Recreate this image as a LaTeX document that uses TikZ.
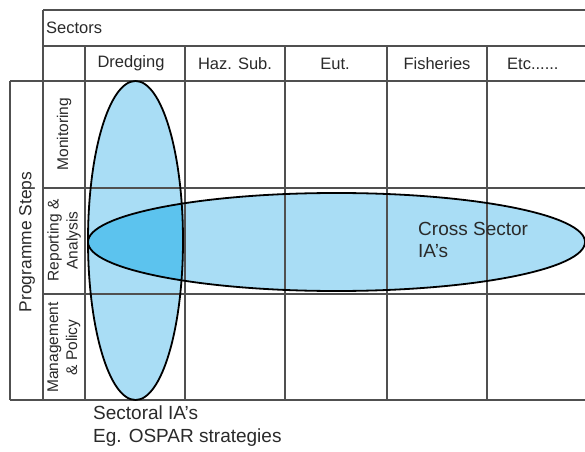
\documentclass[tikz,border=0pt]{standalone}
\usepackage{fontspec}
\setmainfont{Liberation Sans}
\definecolor{lightblue}{HTML}{A9DDF5}
\definecolor{darkblue}{HTML}{5CC3EE}
\definecolor{gridgray}{HTML}{505050}
\definecolor{txt}{HTML}{2A2A2A}
\begin{document}
\begin{tikzpicture}[x=1bp,y=-1bp,
  gridline/.style={draw=gridgray,line width=1.2bp},
  ringline/.style={draw=black,line width=1.8bp},
  headtext/.style={font=\fontsize{16.5bp}{19bp}\selectfont,text=txt,inner sep=0pt},
  rowtext/.style={font=\fontsize{15.5bp}{19bp}\selectfont,text=txt,inner sep=0pt,rotate=90,align=center},
  bigtext/.style={font=\fontsize{19bp}{22.5bp}\selectfont,text=txt,inner sep=0pt,align=left,anchor=north west}]
\useasboundingbox (0,0) rectangle (585,452);
\fill[white] (0,0) rectangle (585,452);
% fills
\fill[lightblue] (135.5,240.5) ellipse [x radius=47.5, y radius=159.5];
\fill[lightblue] (336.5,242) ellipse [x radius=248.5, y radius=49];
\begin{scope}
  \clip (135.5,240.5) ellipse [x radius=47.5, y radius=159.5];
  \fill[darkblue] (336.5,242) ellipse [x radius=248.5, y radius=49];
\end{scope}
% grid
\draw[gridline] (43,10) -- (585,10);
\draw[gridline] (43,46) -- (585,46);
\draw[gridline] (10,81) -- (585,81);
\draw[gridline] (43,188) -- (585,188);
\draw[gridline] (43,294) -- (585,294);
\draw[gridline] (10,400) -- (585,400);
\draw[gridline] (10,81) -- (10,400);
\draw[gridline] (43,10) -- (43,400);
\foreach \xx in {85,185,285,387,487} \draw[gridline] (\xx,46) -- (\xx,400);
% outlines
\draw[ringline] (135.5,240.5) ellipse [x radius=47.5, y radius=159.5];
\draw[ringline] (336.5,242) ellipse [x radius=248.5, y radius=49];
% texts
\node[headtext,anchor=west] (sectors) at (46,28) {Sectors};
\node[headtext] (dredging) at (131,63.5) {Dredging};
\node[headtext] (haz) at (235,63.5) {Haz. Sub.};
\node[headtext] (eut) at (335,63.5) {Eut.};
\node[headtext] (fish) at (437,63.5) {Fisheries};
\node[headtext,anchor=west] (etc) at (507,63.5) {Etc......};
\node[rowtext,font=\fontsize{17.4bp}{20bp}\selectfont] (prog) at (27,242) {Programme Steps};
\node[rowtext] (mon) at (64,134) {Monitoring};
\node[rowtext] (rep) at (64,240.5) {Reporting \&\\Analysis};
\node[rowtext] (man) at (64,347.5) {Management\\\& Policy};
\node[bigtext] (cross) at (418,222) {Cross Sector\\IA’s};
\node[bigtext] (sect) at (93,406) {Sectoral IA’s\\Eg. OSPAR strategies};
\end{tikzpicture}
\end{document}
